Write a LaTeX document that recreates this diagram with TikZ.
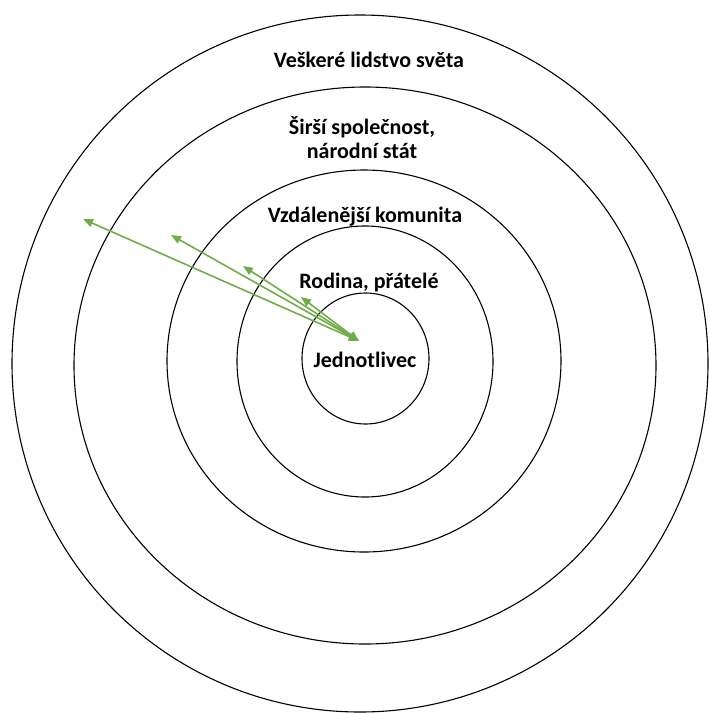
\documentclass[tikz,border=0pt]{standalone}
\usepackage{fontspec}
\setmainfont{Carlito}
\usepackage{xcolor}
\usetikzlibrary{arrows.meta, shapes.geometric, positioning}
\definecolor{leafgreen}{HTML}{70AD47}

\begin{document}
\begin{tikzpicture}[x=1pt, y=-1pt,
			ring/.style={draw, black, line width=1.1pt, ellipse, inner sep=0pt},
			label/.style={font=\fontsize{22}{24}\selectfont\bfseries, align=center, inner sep=1pt},
			link/.style={draw=leafgreen, line width=1.6pt, {Triangle[length=10pt,width=8pt]}-{Triangle[length=10pt,width=8pt]}}
			]
			\useasboundingbox (0,0) rectangle (709,713);
			\node [ring, minimum width=696pt, minimum height=697pt](world) at (360,363.5) {};
			\node [ring, minimum width=582pt, minimum height=557pt](society) at (365,365.5) {};
			\node [ring, minimum width=394pt, minimum height=382pt](community) at (364,361) {};
			\node [ring, minimum width=256pt, minimum height=271pt](family) at (365,361.5) {};
			\node [ring, minimum width=127pt, minimum height=131pt](self) at (365.5,358.5) {};
			
			\node [label](tworld) at (369,60) {Veškeré lidstvo světa};
			\node [label](tsociety) at (362,138) {Širší společnost,\\národní stát};
			\node [label](tcommunity) at (365,217) {Vzdálenější komunita};
			\node [label](tfamily) at (369,283) {Rodina, přátelé};
			\node [label](tself) at (365,360) {Jednotlivec};
			
			\coordinate (o) at (359,341);
			\coordinate (r1) at (301,297);
			\coordinate (r2) at (243,266);
			\coordinate (r3) at (171,235);
			\coordinate (r4) at (83,219);
			
			\draw[link] (o) -- (r1);
			\draw[link] (o) -- (r2);
			\draw[link] (o) -- (r3);
			\draw[link] (o) -- (r4);
		\end{tikzpicture}
\end{document}
